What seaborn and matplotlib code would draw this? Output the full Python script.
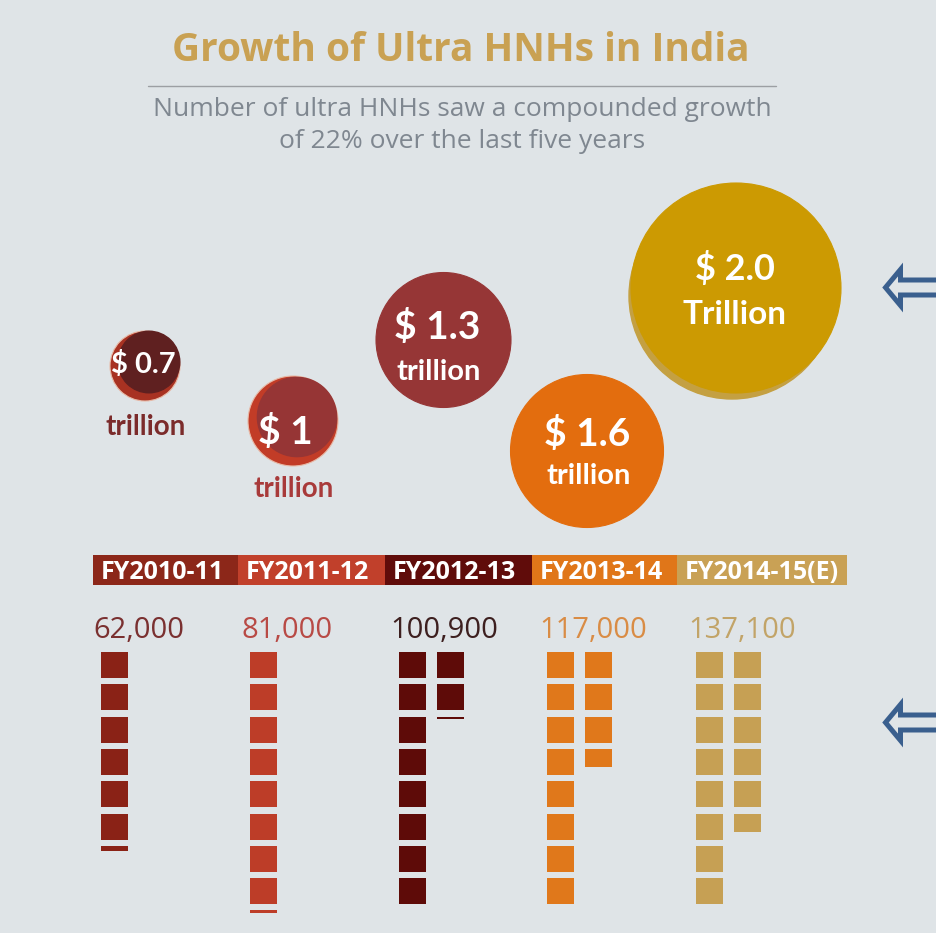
import matplotlib
matplotlib.use("Agg")
import matplotlib.pyplot as plt
from matplotlib.patches import Circle
import pandas as pd
import seaborn as sns

# ---------------- data ----------------
years = ["FY2010-11", "FY2011-12", "FY2012-13", "FY2013-14", "FY2014-15(E)"]
ultra_hnh_count = [62000, 81000, 100900, 117000, 137100]
count_labels = ["62,000", "81,000", "100,900", "117,000", "137,100"]
wealth_trillion = [0.7, 1.0, 1.3, 1.6, 2.0]
wealth_value_labels = ["$ 0.7", "$ 1", "$ 1.3", "$ 1.6", "$ 2.0"]
wealth_unit_labels = ["trillion", "trillion", "trillion", "trillion", "Trillion"]
PEOPLE_PER_SQUARE = 10000
SQUARES_PER_COLUMN = 8

title = "Growth of Ultra HNHs in India"
subtitle = ["Number of ultra HNHs saw a compounded growth",
            "of 22% over the last five years"]

# ---------------- style ----------------
BG = "#dfe4e7"
square_colors = ["#8a2216", "#bd3d28", "#5e0b08", "#e0781b", "#c6a054"]
header_colors = ["#8c2719", "#c1402b", "#600c0a", "#e07619", "#c9a155"]
count_colors = ["#7a3030", "#b84a45", "#3d1f1f", "#d98c45", "#c2a468"]
bubble_colors = ["#a83222", "#c23c27", "#963636", "#e36d0e", "#cc9a02"]
bubble_inner_colors = ["#5f2020", "#963535", None, None, None]
unit_colors = ["#7b2b2b", "#a83a3a", "white", "white", "white"]
ARROW_COLOR = "#3a5f8e"

# layout in pixel units of the canvas
W, H = 937, 933
bubble_centers = [(145, 366), (293, 421), (443.5, 340), (587, 451), (736, 288)]
bubble_radii = [35, 45, 67.5, 76.5, 105]
value_text_pos = [(143, 362), (285, 430), (437.5, 325), (587.5, 432), (735, 267)]
unit_text_pos = [(146, 425), (294, 487), (439, 370), (589, 473), (735, 312)]
value_text_size = [21, 28, 28, 28, 26]
unit_text_size = [20, 20, 21, 21, 24]

header_edges = [93, 238, 385, 532, 677, 847]
HEADER_TOP, HEADER_H = 555, 30
col_x0, col_step, col_gap = 101, 148.8, 38
sq_w, sq_h, row_pitch, sq_top = 27, 26, 32.3, 652

sns.set_theme(style="white", rc={"figure.facecolor": BG, "axes.facecolor": BG})
plt.rcParams["font.family"] = ["Open Sans", "DejaVu Sans"]

fig = plt.figure(figsize=(W / 100, H / 100), dpi=100)
ax = fig.add_axes([0, 0, 1, 1])
ax.set_xlim(0, W)
ax.set_ylim(H, 0)
ax.set_aspect("equal")
ax.axis("off")


def centered_text(x, y, s, size, **kw):
    # put the visual middle of cap height at y
    ax.text(x, y + 0.5 * size, s, fontsize=size, ha="center", va="baseline", **kw)


# ---- title block ----
centered_text(461, 47, title, 28, color="#c9a153", fontweight="bold")
ax.plot([148, 776], [86, 86], color="#9c9fa3", lw=1)
centered_text(462, 107, subtitle[0], 19, color="#7f8790")
centered_text(462, 139, subtitle[1], 19, color="#7f8790")

# ---- wealth bubbles ----
for i, v in enumerate(wealth_trillion):
    cx, cy = bubble_centers[i]
    r = bubble_radii[i]
    if i == 4:
        ax.add_patch(Circle((cx - 4, cy + 8), r - 2, color="#c4a042", zorder=2))
    ax.add_patch(Circle((cx, cy), r, facecolor=bubble_colors[i],
                        edgecolor="#e8b9a6" if i < 2 else bubble_colors[i],
                        lw=0.8, zorder=3))
    if bubble_inner_colors[i]:
        ax.add_patch(Circle((cx + 4, cy - 4), r * 0.88,
                            color=bubble_inner_colors[i], zorder=4))
    vx, vy = value_text_pos[i]
    centered_text(vx, vy, wealth_value_labels[i], value_text_size[i],
                  color="white", fontweight="bold",
                  family=["Lato", "DejaVu Sans"], zorder=6)
    ux, uy = unit_text_pos[i]
    centered_text(ux, uy, wealth_unit_labels[i], unit_text_size[i],
                  color=unit_colors[i], fontweight="bold",
                  family=["Lato", "DejaVu Sans"], zorder=6)

# ---- year header strip ----
HEADER_FS = 18
for i, yr in enumerate(years):
    x0, x1 = header_edges[i], header_edges[i + 1]
    ax.bar(x0, HEADER_H, width=x1 - x0, bottom=HEADER_TOP, align="edge",
           color=header_colors[i], lw=0)
    ax.text(x0 + 8, HEADER_TOP + HEADER_H / 2 + 0.5 * HEADER_FS, yr,
            fontsize=HEADER_FS, color="white", fontweight="bold",
            ha="left", va="baseline")

# ---- counts as stacks of squares (one square per 10,000 people) ----
# full squares wrap into a new column after 8; the leftover fraction
# sits right under the last full square
cells = []
for i, n in enumerate(ultra_hnh_count):
    units = n / PEOPLE_PER_SQUARE
    full = int(units)
    for k in range(full):
        col, row = divmod(k, SQUARES_PER_COLUMN)
        cells.append({"group": i, "col": col, "row": row, "frac": 1.0})
    rest = units - full
    if rest > 1e-9:
        col, row = divmod(full - 1, SQUARES_PER_COLUMN)
        cells.append({"group": i, "col": col, "row": row + 1, "frac": rest})
cells = pd.DataFrame(cells)
cells["x"] = col_x0 + col_step * cells["group"] + col_gap * cells["col"]
cells["y"] = sq_top + row_pitch * cells["row"]
cells["h"] = sq_h * cells["frac"]

NUM_FS = 21
for g, sub in cells.groupby("group"):
    ax.bar(sub["x"], sub["h"], width=sq_w, bottom=sub["y"], align="edge",
           color=square_colors[g], lw=0)
    ax.text(col_x0 + col_step * g - 8, 627 + 0.5 * NUM_FS, count_labels[g],
            fontsize=NUM_FS, color=count_colors[g], ha="left", va="baseline")


# ---- hollow pointer arrows at the right edge ----
def hollow_arrow(tip_x, cy):
    back = tip_x + 17.5
    xs = [W + 10, back, back, tip_x + 2.5, back, back, W + 10]
    ys = [cy - 7.5, cy - 7.5, cy - 18, cy, cy + 18, cy + 7.5, cy + 7.5]
    ax.plot(xs, ys, color=ARROW_COLOR, lw=3.6, solid_joinstyle="miter",
            clip_on=False)


hollow_arrow(883, 287.5)
hollow_arrow(883, 722.5)

fig.savefig("out.png", dpi=100, facecolor=BG)
